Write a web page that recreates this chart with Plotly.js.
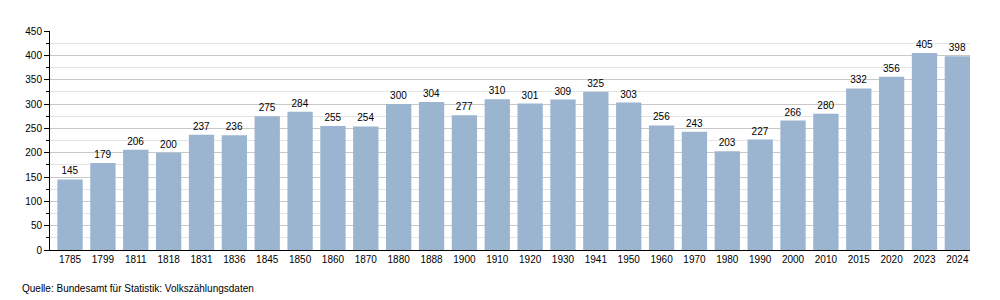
<!DOCTYPE html>
<html><head><meta charset="utf-8">
<script src="https://cdn.plot.ly/plotly-3.0.1.min.js"></script>
<style>html,body{margin:0;padding:0;background:#fff}#c{width:1000px;height:300px}</style>
</head><body><div id="c"></div>
<script>
const years = ["1785","1799","1811","1818","1831","1836","1845","1850","1860","1870","1880","1888","1900","1910","1920","1930","1941","1950","1960","1970","1980","1990","2000","2010","2015","2020","2023","2024"];
const population = [145,179,206,200,237,236,275,284,255,254,300,304,277,310,301,309,325,303,256,243,203,227,266,280,332,356,405,398];
const sourceText = "Quelle: Bundesamt für Statistik: Volkszählungsdaten";

const font = {family: "Liberation Sans, Arial, sans-serif", size: 10, color: "#000"};
Plotly.newPlot("c", [{
  type: "bar", x: years, y: population,
  text: population.map(String), textposition: "outside", cliponaxis: false,
  textfont: font,
  marker: {color: "#9bb4cf", line: {width: 0}},
  hoverinfo: "x+y"
}], {
  width: 1000, height: 300,
  margin: {l: 50, r: 30, t: 31, b: 50},
  paper_bgcolor: "#fff", plot_bgcolor: "#fff",
  font: font, showlegend: false, bargap: 0.23,
  xaxis: {type: "category", range: [-0.61, 27.385], showline: true, linecolor: "#000", linewidth: 1, ticks: "", showgrid: false, tickfont: font, fixedrange: true},
  yaxis: {range: [0, 450], dtick: 50, showline: true, linecolor: "#000", linewidth: 1,
    ticks: "outside", ticklen: 5, tickcolor: "#000", gridcolor: "#c8c8c8", tickfont: font, zeroline: false,
    minor: {dtick: 25, showgrid: true, gridcolor: "#e4e4e4", ticks: "outside", ticklen: 3, tickcolor: "#000"}, fixedrange: true},
  annotations: [{text: sourceText, xref: "paper", yref: "paper", x: -0.0326, y: -0.178, xanchor: "left", yanchor: "middle", showarrow: false, font: font}]
}, {displayModeBar: false, staticPlot: true});
</script></body></html>
